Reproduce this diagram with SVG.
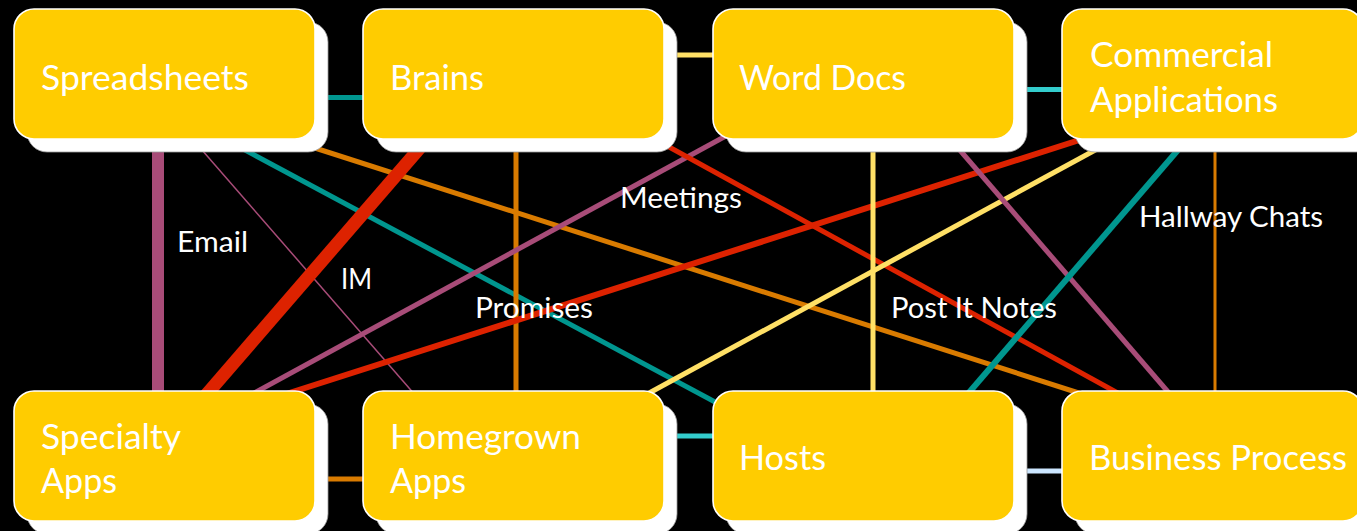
<svg xmlns="http://www.w3.org/2000/svg" width="1357" height="531" viewBox="0 0 1357 531">
<style>
.bg{fill:#000}
.sh{fill:#fff;stroke:#999;stroke-width:0.8}
.box{fill:#FFCC00;stroke:#fff;stroke-width:1.6}
.nt{font-family:Lato,"Open Sans",sans-serif;font-size:35px;fill:#fff}
.lt{font-family:Lato,"Open Sans",sans-serif;font-size:29px;fill:#fff}
.c{fill:none;stroke-linecap:butt}
.mauve{stroke:#A84C78}
.teal{stroke:#00968F}
.orange{stroke:#D97B00}
.red{stroke:#DD2200}
.ly{stroke:#FFE066}
.cyan{stroke:#33CCCC}
.lb{stroke:#CCE6FF}
</style>
<rect class="bg" x="0" y="0" width="1357" height="531"/>
<g id="connectors">
<line class="c teal" x1="320" y1="97.5" x2="370" y2="97.5" stroke-width="5"/>
<line class="c ly" x1="670" y1="55" x2="720" y2="55" stroke-width="5"/>
<line class="c cyan" x1="1020" y1="89.5" x2="1070" y2="89.5" stroke-width="5"/>
<line class="c orange" x1="320" y1="479" x2="370" y2="479" stroke-width="5"/>
<line class="c cyan" x1="670" y1="436" x2="720" y2="436" stroke-width="5"/>
<line class="c lb" x1="1020" y1="471" x2="1070" y2="471" stroke-width="5"/>
<line class="c mauve" x1="158" y1="140" x2="158" y2="400" stroke-width="12"/>
<line class="c mauve" x1="195" y1="142" x2="416" y2="396" stroke-width="1.5"/>
<line class="c teal" x1="232" y1="143" x2="730" y2="410" stroke-width="5"/>
<line class="c orange" x1="290" y1="140" x2="1110" y2="403" stroke-width="5"/>
<line class="c red" x1="425" y1="142" x2="200" y2="402" stroke-width="13"/>
<line class="c orange" x1="516" y1="140" x2="516" y2="400" stroke-width="5"/>
<line class="c mauve" x1="735" y1="131" x2="245" y2="398" stroke-width="5"/>
<line class="c red" x1="280" y1="396" x2="1095" y2="135" stroke-width="6"/>
<line class="c red" x1="660" y1="142" x2="1125" y2="397" stroke-width="5"/>
<line class="c ly" x1="640" y1="398" x2="1110" y2="142" stroke-width="5"/>
<line class="c ly" x1="873" y1="140" x2="873" y2="400" stroke-width="5"/>
<line class="c mauve" x1="952" y1="141" x2="1175" y2="400" stroke-width="5"/>
<line class="c teal" x1="1184" y1="143" x2="960" y2="403" stroke-width="6"/>
<line class="c orange" x1="1215" y1="140" x2="1215" y2="400" stroke-width="3"/>
</g>
<g id="n-spreadsheets">
<rect class="sh" x="27" y="22" width="301" height="130" rx="20"/>
<rect class="box" x="14" y="9" width="301" height="130" rx="20"/>
<text class="nt" x="41" y="90" textLength="208" lengthAdjust="spacingAndGlyphs">Spreadsheets</text>
</g>
<g id="n-brains">
<rect class="sh" x="376" y="22" width="301" height="130" rx="20"/>
<rect class="box" x="363" y="9" width="301" height="130" rx="20"/>
<text class="nt" x="390" y="90" textLength="94" lengthAdjust="spacingAndGlyphs">Brains</text>
</g>
<g id="n-worddocs">
<rect class="sh" x="726" y="22" width="301" height="130" rx="20"/>
<rect class="box" x="713" y="9" width="301" height="130" rx="20"/>
<text class="nt" x="739" y="90" textLength="167" lengthAdjust="spacingAndGlyphs">Word Docs</text>
</g>
<g id="n-commercial">
<rect class="sh" x="1075" y="22" width="301" height="130" rx="20"/>
<rect class="box" x="1062" y="9" width="301" height="130" rx="20"/>
<text class="nt" x="1090" y="67" textLength="183" lengthAdjust="spacingAndGlyphs">Commercial</text>
<text class="nt" x="1090" y="112" textLength="188" lengthAdjust="spacingAndGlyphs">Applications</text>
</g>
<g id="n-specialty">
<rect class="sh" x="27" y="404" width="301" height="130" rx="20"/>
<rect class="box" x="14" y="391" width="301" height="130" rx="20"/>
<text class="nt" x="41" y="449" textLength="140" lengthAdjust="spacingAndGlyphs">Specialty</text>
<text class="nt" x="41" y="493" textLength="76" lengthAdjust="spacingAndGlyphs">Apps</text>
</g>
<g id="n-homegrown">
<rect class="sh" x="376" y="404" width="301" height="130" rx="20"/>
<rect class="box" x="363" y="391" width="301" height="130" rx="20"/>
<text class="nt" x="390" y="449" textLength="191" lengthAdjust="spacingAndGlyphs">Homegrown</text>
<text class="nt" x="390" y="493" textLength="76" lengthAdjust="spacingAndGlyphs">Apps</text>
</g>
<g id="n-hosts">
<rect class="sh" x="726" y="404" width="301" height="130" rx="20"/>
<rect class="box" x="713" y="391" width="301" height="130" rx="20"/>
<text class="nt" x="739" y="470" textLength="87" lengthAdjust="spacingAndGlyphs">Hosts</text>
</g>
<g id="n-business">
<rect class="sh" x="1075" y="404" width="301" height="130" rx="20"/>
<rect class="box" x="1062" y="391" width="301" height="130" rx="20"/>
<text class="nt" x="1089" y="470" textLength="258" lengthAdjust="spacingAndGlyphs">Business Process</text>
</g>
<g id="labels">
<text class="lt" x="177" y="252" textLength="71" lengthAdjust="spacingAndGlyphs">Email</text>
<text class="lt" x="341" y="289" textLength="31" lengthAdjust="spacingAndGlyphs">IM</text>
<text class="lt" x="475" y="318" textLength="118" lengthAdjust="spacingAndGlyphs">Promises</text>
<text class="lt" x="620" y="208" textLength="122" lengthAdjust="spacingAndGlyphs">Meetings</text>
<text class="lt" x="891" y="318" textLength="166" lengthAdjust="spacingAndGlyphs">Post It Notes</text>
<text class="lt" x="1139" y="227" textLength="184" lengthAdjust="spacingAndGlyphs">Hallway Chats</text>
</g>
</svg>
